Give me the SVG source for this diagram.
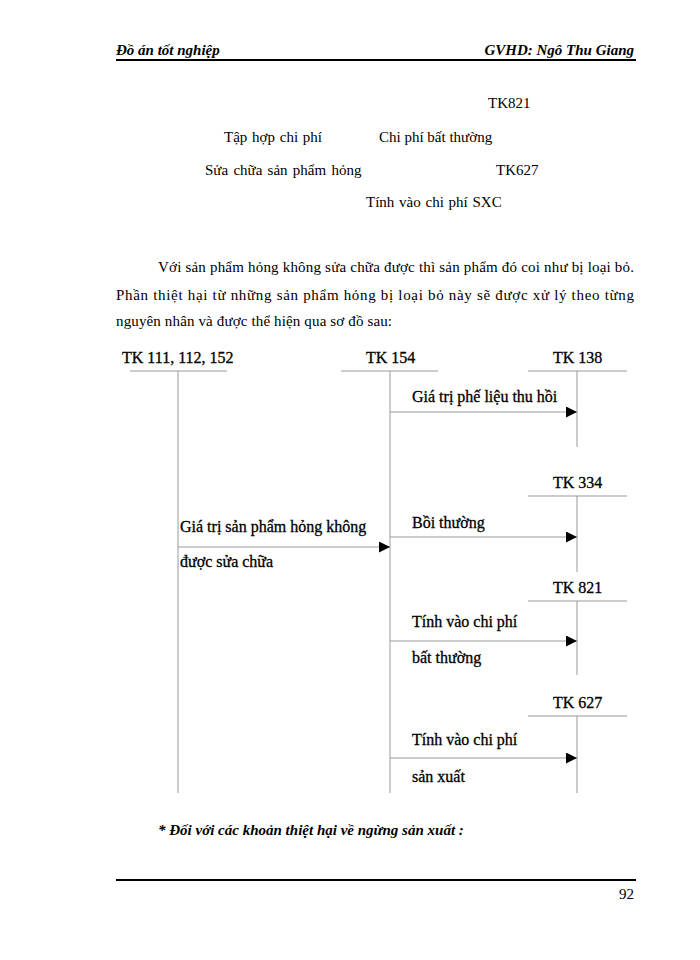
<svg xmlns="http://www.w3.org/2000/svg" width="700" height="960" viewBox="0 0 700 960">
<defs>
<style>
.hdr{font-family:"Liberation Serif",serif;font-size:15px;font-weight:bold;font-style:italic;fill:#000}
.t{font-family:"Liberation Serif",serif;font-size:15px;fill:#000}
.d{font-family:"Liberation Serif",serif;font-size:16px;fill:#000;stroke:#000;stroke-width:0.3}
.ln{stroke:#999;stroke-width:1;fill:none}
.rule{stroke:#000;stroke-width:2}
</style>
<marker id="ah" markerWidth="12" markerHeight="12" refX="11" refY="5.5" orient="auto" markerUnits="userSpaceOnUse">
<path d="M0,0 L11,5.5 L0,11 Z" fill="#000"/>
</marker>
</defs>
<rect width="700" height="960" fill="#fff"/>
<g id="header">
<text class="hdr" x="116" y="55">Đồ án tốt nghiệp</text>
<text class="hdr" x="634" y="55" text-anchor="end">GVHD: Ngô Thu Giang</text>
<line class="rule" x1="116" y1="60" x2="636" y2="60"/>
</g>
<g id="top-text">
<text class="t" x="488" y="108">TK821</text>
<text class="t" x="224" y="142" word-spacing="1">Tập hợp chi phí</text>
<text class="t" x="379" y="142">Chi phí bất thường</text>
<text class="t" x="205" y="175" word-spacing="1.5">Sửa chữa sản phẩm hỏng</text>
<text class="t" x="496" y="175">TK627</text>
<text class="t" x="366" y="207" word-spacing="1">Tính vào chi phí SXC</text>
</g>
<g id="paragraph">
<text class="t" x="158" y="272" textLength="476" lengthAdjust="spacing">Với sản phẩm hỏng không sửa chữa được thì sản phẩm đó coi như bị loại bỏ.</text>
<text class="t" x="116" y="300" textLength="518" lengthAdjust="spacing">Phần thiệt hại từ những sản phẩm hỏng bị loại bỏ này sẽ được xử lý theo từng</text>
<text class="t" x="116" y="326" textLength="276" lengthAdjust="spacing">nguyên nhân và được thể hiện qua sơ đồ sau:</text>
</g>
<g id="tk111">
<text class="d" x="122" y="363">TK 111, 112, 152</text>
<line class="ln" x1="130" y1="371" x2="227" y2="371"/>
<line class="ln" x1="178" y1="371" x2="178" y2="793"/>
</g>
<g id="tk154">
<text class="d" x="366" y="363">TK 154</text>
<line class="ln" x1="341" y1="371" x2="438" y2="371"/>
<line class="ln" x1="390" y1="371" x2="390" y2="793"/>
</g>
<g id="tk138">
<text class="d" x="553" y="363">TK 138</text>
<line class="ln" x1="528" y1="371" x2="627" y2="371"/>
<line class="ln" x1="577" y1="371" x2="577" y2="447"/>
</g>
<g id="tk334">
<text class="d" x="553" y="488">TK 334</text>
<line class="ln" x1="528" y1="496" x2="627" y2="496"/>
<line class="ln" x1="577" y1="496" x2="577" y2="572"/>
</g>
<g id="tk821">
<text class="d" x="553" y="593">TK 821</text>
<line class="ln" x1="528" y1="601" x2="627" y2="601"/>
<line class="ln" x1="577" y1="601" x2="577" y2="675"/>
</g>
<g id="tk627">
<text class="d" x="553" y="708">TK 627</text>
<line class="ln" x1="528" y1="716" x2="627" y2="716"/>
<line class="ln" x1="577" y1="716" x2="577" y2="793"/>
</g>
<g id="connectors">
<line class="ln" x1="178" y1="547" x2="390" y2="547" marker-end="url(#ah)"/>
<line class="ln" x1="390" y1="412" x2="577" y2="412" marker-end="url(#ah)"/>
<line class="ln" x1="390" y1="537" x2="577" y2="537" marker-end="url(#ah)"/>
<line class="ln" x1="390" y1="641" x2="577" y2="641" marker-end="url(#ah)"/>
<line class="ln" x1="390" y1="758" x2="577" y2="758" marker-end="url(#ah)"/>
</g>
<g id="labels">
<text class="d" x="180" y="532">Giá trị sản phẩm hỏng không</text>
<text class="d" x="180" y="567">được sửa chữa</text>
<text class="d" x="412" y="402">Giá trị phế liệu thu hồi</text>
<text class="d" x="412" y="528">Bồi thường</text>
<text class="d" x="412" y="627">Tính vào chi phí</text>
<text class="d" x="412" y="663">bất thường</text>
<text class="d" x="412" y="745">Tính vào chi phí</text>
<text class="d" x="412" y="782">sản xuất</text>
</g>
<g id="footer">
<text class="hdr" x="158" y="835">* Đối với các khoản thiệt hại về ngừng sản xuất :</text>
<line class="rule" x1="116" y1="880" x2="636" y2="880"/>
<text class="t" x="634" y="899" text-anchor="end" font-size="16">92</text>
</g>
</svg>
